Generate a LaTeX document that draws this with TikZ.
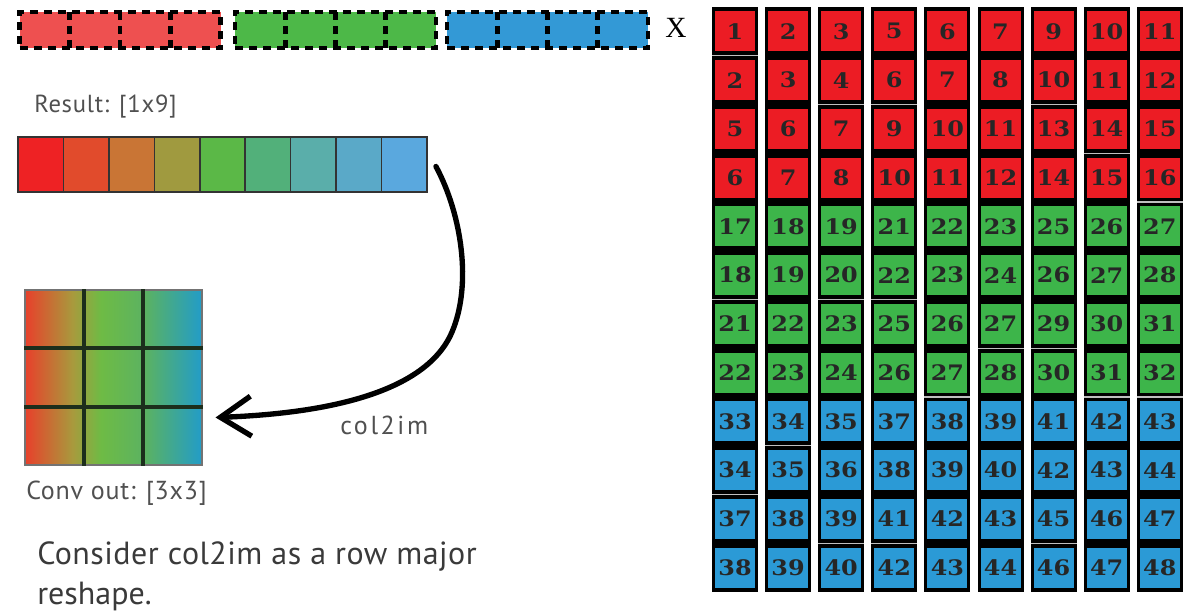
\documentclass[tikz,border=0pt]{standalone}
\usepackage{fontspec}
\setmainfont{PT Sans}
\newfontfamily\lblfont[LetterSpace=3]{PT Sans}
\newfontfamily\widefont[LetterSpace=10]{PT Sans}
\newfontfamily\numfont[FakeStretch=1.12]{DejaVu Serif}
\newfontfamily\xfont{Liberation Serif}
\usetikzlibrary{arrows.meta,positioning,calc}

\definecolor{labelgray}{HTML}{505050}
\definecolor{textgray}{HTML}{3A3A3A}
\definecolor{dred}{HTML}{EE5050}
\definecolor{dgreen}{HTML}{4DB848}
\definecolor{dblue}{HTML}{3399D6}
\definecolor{cred}{HTML}{EC1C24}
\definecolor{cgreen}{HTML}{3DB54A}
\definecolor{cblue}{HTML}{2B9AD6}
\definecolor{r1}{HTML}{EE2224}
\definecolor{r2}{HTML}{E14B2C}
\definecolor{r3}{HTML}{C97535}
\definecolor{r4}{HTML}{A09A3F}
\definecolor{r5}{HTML}{5BB847}
\definecolor{r6}{HTML}{52B07A}
\definecolor{r7}{HTML}{5AAEAA}
\definecolor{r8}{HTML}{5AA9C8}
\definecolor{r9}{HTML}{5AA8DE}
\definecolor{gleft}{HTML}{E8402B}
\definecolor{golive}{HTML}{A89A3D}
\definecolor{gmid}{HTML}{6EBB45}
\definecolor{gsea}{HTML}{5BB262}
\definecolor{gright}{HTML}{229CC8}
\definecolor{gridline}{HTML}{1C2E1C}
% the node covers 25bp..75bp of the shading
\pgfdeclarehorizontalshading{convshade}{100bp}{color(0bp)=(gleft); color(25bp)=(gleft);
  color(38.5bp)=(golive); color(46.5bp)=(gmid); color(59bp)=(gsea);
  color(75bp)=(gright); color(100bp)=(gright)}

\begin{document}
\begin{tikzpicture}[
  x=0.75pt, y=-0.75pt,
  lbl/.style={text=labelgray, inner sep=0pt, anchor=west, font=\lblfont\fontsize{18.5}{22}\selectfont},
  dashbar/.style={draw=black, line width=3.6pt, dash pattern=on 6pt off 4.5pt,
                  minimum width=150.75pt, minimum height=27pt, inner sep=0pt, outer sep=0pt},
  dashdiv/.style={draw=black, line width=3.6pt, dash pattern=on 6pt off 4.5pt},
  rcell/.style={draw=black!80, line width=1.2pt, minimum width=34.08pt, minimum height=41.25pt,
                inner sep=0pt, outer sep=0pt},
  gline/.style={draw=gridline, line width=2.6pt},
  flow/.style={draw=black, line width=4pt, line cap=round, line join=round,
               -{Straight Barb[length=23pt,width=30pt]}},
  strip/.style={fill=black, minimum width=34.5pt, minimum height=438.75pt, inner sep=0pt},
  mcell/.style={minimum width=30pt, minimum height=30pt, inner sep=0pt, text=black!85,
                font=\numfont\bfseries\fontsize{16}{16}\selectfont},
  seam/.style={draw=black!25, line width=0.9pt}
]
\useasboundingbox (0,0) rectangle (1190,616);

\node[dashbar, fill=dred] (rbar) at (120,30) {};
\node[dashbar, fill=dgreen] (gbar) at (335.5,30) {};
\node[dashbar, fill=dblue] (bbar) at (547.5,30) {};
\foreach \b in {rbar,gbar,bbar}
  \foreach \f in {0.25,0.5,0.75}
    \draw[dashdiv] ($(\b.north west)!\f!(\b.north east)$) -- ($(\b.south west)!\f!(\b.south east)$);
\node[font=\xfont\fontsize{22}{22}\selectfont] (xmark) at (676,28) {X};

\node[lbl] (reslbl) at (34,107) {Result: [1x9]};
\foreach \c [count=\i] in {r1,r2,r3,r4,r5,r6,r7,r8,r9}
  \node[rcell, fill=\c] (res\i) at ({18+45.44*(\i-0.5)},164.5) {};

\node[draw=black!55, line width=0.8pt, minimum width=132.75pt, minimum height=131.25pt, inner sep=0pt,
      shading=convshade] (outgrid) at (113.5,377.5) {};
\foreach \f in {0.3333,0.6667} {
  \draw[gline] ($(outgrid.north west)!\f!(outgrid.north east)$) -- ($(outgrid.south west)!\f!(outgrid.south east)$);
  \draw[gline] ($(outgrid.north west)!\f!(outgrid.south west)$) -- ($(outgrid.north east)!\f!(outgrid.south east)$);
}
\node[lbl, font=\lblfont\fontsize{19.5}{22}\selectfont] (convlbl) at (26,493) {Conv out: [3x3]};

\draw[flow] ([shift={(9,2)}]res9.east) .. controls (462,215) and (472,285) .. (452,332)
  .. controls (424,398) and (310,414) .. ([shift={(13,40)}]outgrid.east);
\node[lbl, font=\widefont\fontsize{19.5}{22}\selectfont] (oplbl) at (340,425) {col2im};

\node[lbl, anchor=north west, text=textgray, align=left, font=\fontsize{24}{30.5}\selectfont]
  (note) at (37,541) {\addfontfeature{LetterSpace=1.5}Consider col2im as a row major\\reshape.};

\foreach \c in {1,...,9}
  \node[strip] (col\c) at ({735+53.1*(\c-1)},299.5) {};
\foreach \b/\tone [count=\r] in {1/cred,2/cred,5/cred,6/cred,17/cgreen,18/cgreen,21/cgreen,22/cgreen,
                                 33/cblue,34/cblue,37/cblue,38/cblue}
  \foreach \o [count=\c] in {0,1,2,4,5,6,8,9,10} {
    \pgfmathtruncatemacro\v{\b+\o}
    \node[mcell, fill=\tone] (m-\r-\c) at ({735+53.1*(\c-1)},{7+48.75*(\r-0.5)}) {\v};
  }
\foreach \c/\k in {1/1,3/2,4/2,7/2,8/3,9/4,1/6,3/6,4/6,6/7,7/7,5/8,8/8,9/8,2/9,1/10,3/11,4/11,7/11}
  \draw[seam] ({712+53.1*(\c-1)},{7+48.75*\k}) -- ++(46,0);
\end{tikzpicture}
\end{document}
